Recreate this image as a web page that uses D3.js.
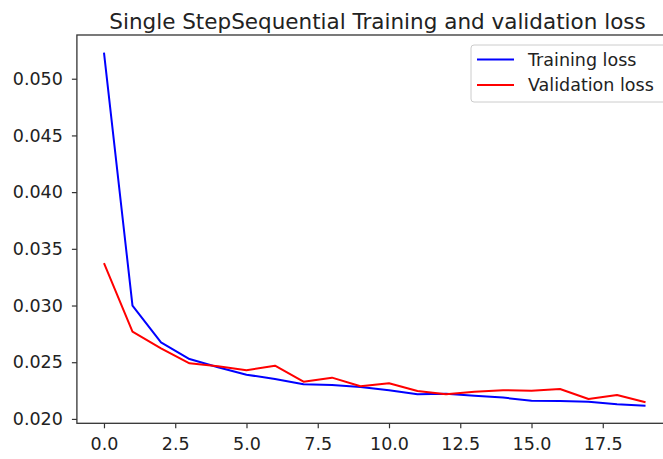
<!DOCTYPE html>
<html>
<head>
<meta charset="utf-8">
<script src="https://cdn.jsdelivr.net/npm/d3@7"></script>
<style>
  body { margin: 0; background: #fff; }
  svg { display: block; font-family: "DejaVu Sans", sans-serif; }
  .tick text { fill: #222; }
</style>
</head>
<body>
<div class="container"></div>
<script>
const width = 663, height = 459;

const epochs = d3.range(20);
const trainingLoss = [0.0523, 0.0300, 0.02675, 0.02528, 0.02455, 0.0239, 0.02352, 0.02305, 0.0230, 0.02282,
	0.02253, 0.02217, 0.02223, 0.02205, 0.02188, 0.02161, 0.02158, 0.02152, 0.02129, 0.02117];
const validationLoss = [0.03374, 0.02769, 0.02622, 0.0249, 0.02464, 0.02429, 0.02469, 0.02328, 0.02364, 0.02288,
	0.02314, 0.02247, 0.02217, 0.0224, 0.02253, 0.02249, 0.02264, 0.02176, 0.02211, 0.02147];
const xTicks = [0, 2.5, 5, 7.5, 10, 12.5, 15, 17.5];
const yTicks = [0.020, 0.025, 0.030, 0.035, 0.040, 0.045, 0.050];
const seriesNames = ['Training loss', 'Validation loss'];
const seriesColors = ['#0000ff', '#ff0000'];

const plotL = 76.9, plotR = 672.6, plotT = 35, plotB = 423.3;

// matplotlib-like 5% margins
const xPad = (d3.max(epochs) - d3.min(epochs)) * 0.05;
const all = trainingLoss.concat(validationLoss);
const yPad = (d3.max(all) - d3.min(all)) * 0.05;

const sx = d3.scaleLinear().domain([d3.min(epochs) - xPad, d3.max(epochs) + xPad]).range([plotL, plotR]);
const sy = d3.scaleLinear().domain([d3.min(all) - yPad, d3.max(all) + yPad]).range([plotB, plotT]);

const svg = d3.select('.container').append('svg')
	.attr('width', width)
	.attr('height', height);

svg.append('text')
	.attr('x', 377.5)
	.attr('y', 29)
	.attr('text-anchor', 'middle')
	.attr('font-size', 21.5)
	.attr('fill', '#222')
	.text('Single StepSequential Training and validation loss');

const line = d3.line().x((d, i) => sx(epochs[i])).y(d => sy(d));

[trainingLoss, validationLoss].forEach((s, k) => {
	svg.append('path')
		.attr('d', line(s))
		.attr('fill', 'none')
		.attr('stroke', seriesColors[k])
		.attr('stroke-width', 2)
		.attr('stroke-linejoin', 'round');
});

const xAxis = svg.append('g')
	.attr('transform', 'translate(0,' + plotB + ')')
	.call(d3.axisBottom(sx).tickValues(xTicks).tickFormat(d3.format('.1f')).tickSizeOuter(0).tickSize(5).tickPadding(9.5));
const yAxis = svg.append('g')
	.attr('transform', 'translate(' + plotL + ',0)')
	.call(d3.axisLeft(sy).tickValues(yTicks).tickFormat(d3.format('.3f')).tickSizeOuter(0).tickSize(5).tickPadding(9));

[xAxis, yAxis].forEach(a => {
	a.select('.domain').remove();
	a.selectAll('.tick line').attr('stroke', '#333').attr('stroke-width', 1.2);
	a.selectAll('.tick text').attr('font-size', 17.5).attr('font-family', '"DejaVu Sans", sans-serif');
});

// spines
svg.append('rect')
	.attr('x', plotL)
	.attr('y', plotT)
	.attr('width', plotR - plotL)
	.attr('height', plotB - plotT)
	.attr('fill', 'none')
	.attr('stroke', '#333')
	.attr('stroke-width', 1.3);

// legend
const lg = svg.append('g');
lg.append('rect')
	.attr('x', 471)
	.attr('y', 45)
	.attr('width', 196)
	.attr('height', 57)
	.attr('rx', 3)
	.attr('fill', '#fff')
	.attr('fill-opacity', 0.8)
	.attr('stroke', '#ccc');
seriesNames.forEach((n, k) => {
	const y = 59.5 + k * 25.5;
	lg.append('line')
		.attr('x1', 477).attr('x2', 514)
		.attr('y1', y).attr('y2', y)
		.attr('stroke', seriesColors[k])
		.attr('stroke-width', 2);
	lg.append('text')
		.attr('x', 528)
		.attr('y', y)
		.attr('dy', '0.35em')
		.attr('font-size', 17.5)
		.attr('fill', '#222')
		.text(n);
});
</script>
</body>
</html>
